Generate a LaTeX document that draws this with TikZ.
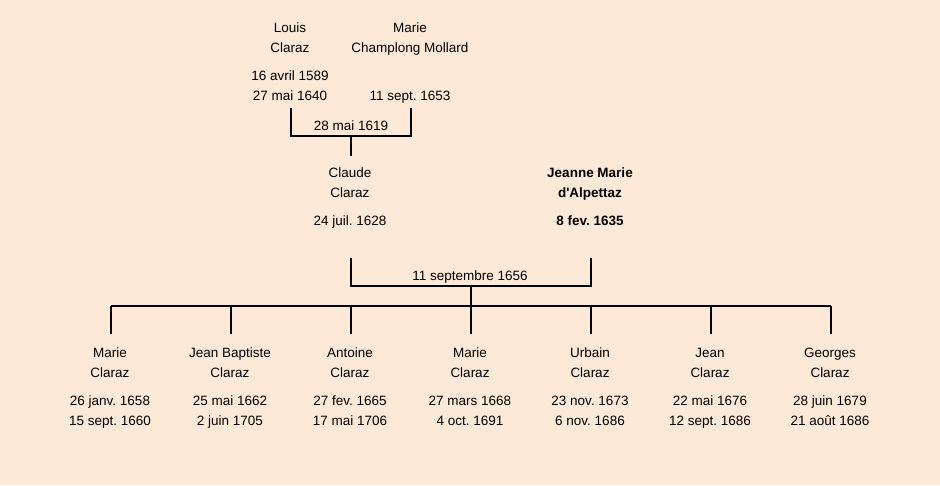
\documentclass[tikz,border=0pt]{standalone}
\usepackage{fontspec}
\setmainfont{Liberation Sans}
\definecolor{bg}{HTML}{FCE9D8}
\frenchspacing
\tikzset{
  txt/.style={inner sep=0pt, anchor=center, text height=12pt, text depth=1.2pt, font=\fontsize{13.5}{15}\selectfont},
  btxt/.style={txt, font=\fontsize{13.5}{15}\selectfont\bfseries},
  ln/.style={line width=1.8pt, black}
}
\begin{document}
\begin{tikzpicture}[x=1pt,y=-1pt]
\fill[bg] (0,0) rectangle (940,485);
\useasboundingbox (0,0) rectangle (940,485);
% grandparents
\node[txt] (l1) at (290,27) {Louis};
\node[txt] (l2) at (290,47) {Claraz};
\node[txt] (l3) at (290,75) {16 avril 1589};
\node[txt] (l4) at (290,95) {27 mai 1640};
\node[txt] (m1) at (410,27) {Marie};
\node[txt] (m2) at (410,47) {Champlong Mollard};
\node[txt] (m4) at (410,95) {11 sept. 1653};
\coordinate (ga) at (291,108);
\coordinate (gb) at (411,108);
\coordinate (gc) at (351,136);
\coordinate (gd) at (351,156);
\draw[ln] (ga) |- (gc) -| (gb);
\draw[ln] (gc) -- (gd);
\node[txt] (gm) at (351,125) {28 mai 1619};
% parents
\node[txt] (c1) at (350,172) {Claude};
\node[txt] (c2) at (350,192) {Claraz};
\node[txt] (c3) at (350,220) {24 juil. 1628};
\node[btxt] (j1) at (590,172) {Jeanne Marie};
\node[btxt] (j2) at (590,192) {d\textquotesingle Alpettaz};
\node[btxt] (j3) at (590,220) {8 fev. 1635};
\coordinate (pa) at (351,258);
\coordinate (pb) at (591,258);
\coordinate (pc) at (471,286);
\coordinate (pd) at (471,306);
\draw[ln] (pa) |- (pc) -| (pb);
\draw[ln] (pc) -- (pd);
\node[txt] (pm) at (470,275) {11 septembre 1656};
% children bar
\coordinate (bl) at (111,306);
\coordinate (br) at (831,306);
\draw[ln] (bl) -- (br);
\foreach \x/\n/\s/\b/\d [count=\i] in {
  110/Marie/Claraz/26 janv. 1658/15 sept. 1660,
  230/Jean Baptiste/Claraz/25 mai 1662/2 juin 1705,
  350/Antoine/Claraz/27 fev. 1665/17 mai 1706,
  470/Marie/Claraz/27 mars 1668/4 oct. 1691,
  590/Urbain/Claraz/23 nov. 1673/6 nov. 1686,
  710/Jean/Claraz/22 mai 1676/12 sept. 1686,
  830/Georges/Claraz/28 juin 1679/21 août 1686}{
  \coordinate (t\i) at (\x+1,306);
  \coordinate (u\i) at (\x+1,334);
  \draw[ln] (t\i) -- (u\i);
  \node[txt] (k\i a) at (\x,352) {\n};
  \node[txt] (k\i b) at (\x,372) {\s};
  \node[txt] (k\i c) at (\x,400) {\b};
  \node[txt] (k\i d) at (\x,420) {\d};
}
\end{tikzpicture}
\end{document}
